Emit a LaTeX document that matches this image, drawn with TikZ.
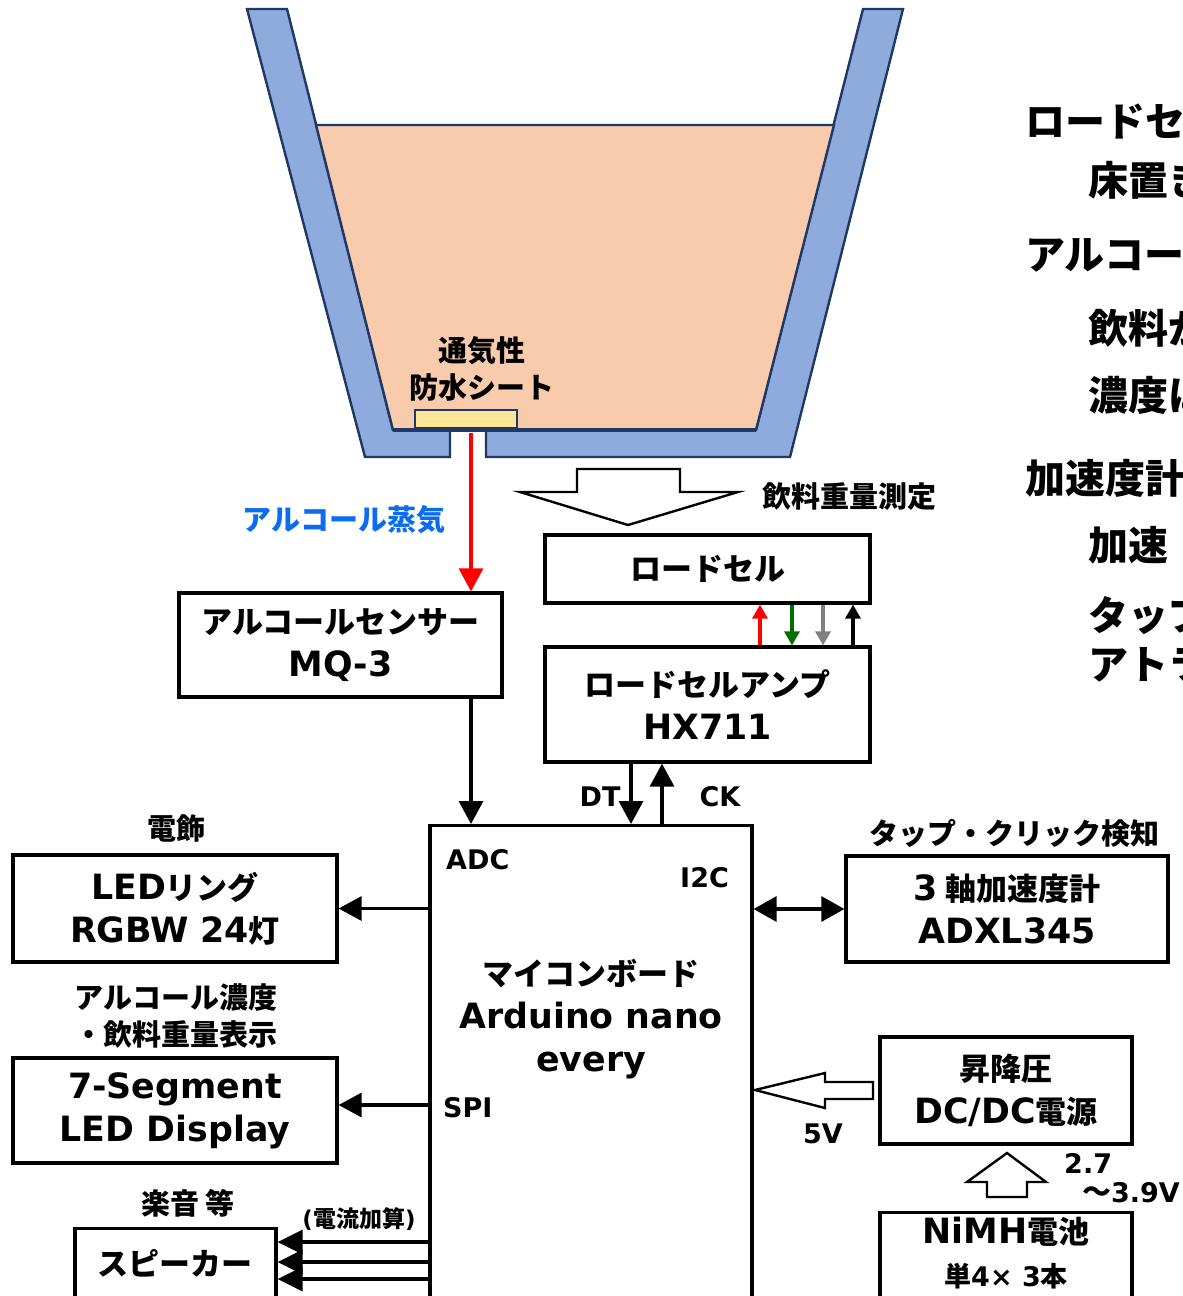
\documentclass[tikz,border=0pt]{standalone}
\usepackage{fontspec}
\setmainfont{Noto Sans CJK JP}
\newfontfamily\lt{DejaVu Sans}
\usetikzlibrary{arrows.meta}

\definecolor{cupblue}{HTML}{8FAADC}
\definecolor{cupedge}{HTML}{1F3864}
\definecolor{drink}{HTML}{F8CBAD}
\definecolor{sheetyellow}{HTML}{FFE699}
\definecolor{vapor}{RGB}{12,108,240}
\definecolor{wiregreen}{HTML}{006F00}
\definecolor{wiregray}{HTML}{808080}

% Latin text in boxes (La) and in small labels (Ls)
\newcommand\La[1]{{\lt\bfseries\fontsize{34.8}{43}\selectfont #1}}
\newcommand\Ls[1]{{\lt\bfseries\fontsize{27}{36}\selectfont #1}}

\tikzset{
  box/.style={draw, line width=3.2pt, inner sep=0pt, align=center,
    font=\bfseries\fontsize{31}{43}\selectfont},
  lbl/.style={inner sep=0pt, align=center,
    font=\bfseries\fontsize{29}{37}\selectfont},
  note/.style={inner sep=0pt, anchor=west,
    font=\bfseries\fontsize{40}{40}\selectfont},
  arr/.style={line width=3.2pt, -{Triangle[length=23pt,width=24pt]}},
  dblarr/.style={line width=3.2pt, {Triangle[length=23pt,width=25pt]}-{Triangle[length=23pt,width=25pt]}},
  wire/.style={line width=3.2pt, -{Triangle[length=14pt,width=15pt]}},
  spkarr/.style={line width=3.2pt, -{Triangle[length=25pt,width=24pt]}},
  wall/.style={fill=cupblue, draw=cupedge, line width=2.4pt, line join=miter},
  hollow/.style={fill=white, draw=black, line width=2.4pt, line join=miter},
}

\begin{document}
\begin{tikzpicture}[x=1pt,y=-1pt]
\useasboundingbox (0,0) rectangle (1183,1296);
\clip (0,0) rectangle (1183,1296);

% ---- cup with drink ----
\filldraw[wall] (247,9) -- (287,9) -- (393,430) -- (450,430) -- (450,457) -- (365,457) -- cycle;
\filldraw[wall] (486,430) -- (756,430) -- (863,9) -- (903,9) -- (790,457) -- (486,457) -- cycle;
\filldraw[fill=drink, draw=cupedge, line width=2.4pt, line join=miter]
  (316,125) -- (834,125) -- (756,430) -- (393,430) -- cycle;
\draw[cupedge, line width=3.6pt] (393,430) -- (756,430);
\filldraw[fill=sheetyellow, draw=cupedge, line width=1.8pt] (415,410) rectangle (517,428);
\node[lbl] (sheetlbl) at (482,369) {通気性\\防水シート};
\coordinate (hole) at (471,433);

% ---- weight arrow ----
\filldraw[hollow] (577,469) -- (680,469) -- (680,492) -- (738,492) -- (628,525)
  -- (520,492) -- (577,492) -- cycle;
\node[lbl, anchor=west] (weighlbl) at (762,497) {飲料重量測定};

% ---- boxes ----
\node[box, minimum width=325, minimum height=68] (lc) at (707.5,569) {ロードセル};
\node[box, minimum width=325, minimum height=115] (amp) at (707.5,704.5)
  {ロードセルアンプ\\\La{HX711}};
\node[box, minimum width=323, minimum height=104] (sens) at (340.5,645)
  {アルコールセンサー\\\La{MQ-3}};
\node[draw, line width=3.2pt, inner sep=0pt, minimum width=322, minimum height=600,
  anchor=north] (mcu) at (591,824) {};
\node[box, draw=none] (mcutxt) at (591,1019) {マイコンボード\\\La{Arduino nano}\\\La{every}};
\node[box, minimum width=324, minimum height=107] (led) at (175,908.5)
  {\La{LED}リング\\\La{RGBW 24}灯};
\node[box, minimum width=324, minimum height=105] (seg) at (175,1110.5)
  {\La{7-Segment}\\\La{LED Display}};
\node[draw, line width=3.2pt, inner sep=0pt, minimum width=201, minimum height=200,
  anchor=north] (spk) at (175.5,1227) {};
\node[box, draw=none] (spktxt) at (175,1263) {スピーカー};
\node[box, minimum width=322, minimum height=106] (acc) at (1007,909)
  {\La{3} 軸加速度計\\\La{ADXL345}};
\node[box, minimum width=252, minimum height=107] (dcdc) at (1006,1090.5)
  {昇降圧\\\La{DC/DC}電源};
\node[draw, line width=3.2pt, inner sep=0pt, minimum width=252, minimum height=200,
  anchor=north] (bat) at (1006,1211) {};
\node[box, draw=none] (battxt) at (1006,1232) {\La{NiMH}電池};
\node[lbl, font=\bfseries\fontsize{27}{30}\selectfont] (batsub) at (1006,1276)
  {単\Ls{4× 3}本};

% ---- labels ----
\node[lbl, text=vapor] (vaporlbl) at (344,520) {アルコール蒸気};
\node[lbl] (ledlbl) at (176,828) {電飾};
\node[lbl] (seglbl) at (176,1016) {アルコール濃度\\・飲料重量表示};
\node[lbl] (spklbl) at (188,1203) {楽音 等};
\node[lbl, font=\bfseries\fontsize{23}{28}\selectfont] (sumlbl) at (359,1219)
  {{\lt(}電流加算{\lt)}};
\node[lbl] (acclbl) at (1014,833) {タップ・クリック検知};
\node[lbl] (dtlbl) at (600,797) {\Ls{DT}};
\node[lbl] (cklbl) at (720,797) {\Ls{CK}};
\node[lbl, anchor=west] (adclbl) at (446,860) {\Ls{ADC}};
\node[lbl, anchor=west] (i2clbl) at (680,878) {\Ls{I2C}};
\node[lbl, anchor=west] (spilbl) at (443,1108) {\Ls{SPI}};
\node[lbl] (vlbl) at (823,1134) {\Ls{5V}};
\node[lbl, anchor=west] (vin1) at (1064,1163) {\Ls{2.7}};
\node[lbl, anchor=east] (vin2) at (1180,1193) {～\Ls{3.9V}};

% ---- notes at the right edge ----
\node[note] (n1) at (1025,122) {ロードセル};
\node[note] (n2) at (1088,180) {床置き};
\node[note] (n3) at (1025,255) {アルコール};
\node[note] (n4) at (1088,328) {飲料が};
\node[note] (n5) at (1088,395) {濃度は};
\node[note] (n6) at (1025,478) {加速度計};
\node[note] (n7) at (1088,545) {加速};
\node[note] (n8) at (1088,615) {タップ};
\node[note] (n9) at (1088,665) {アトラ};

% ---- connectors ----
\draw[arr, red] (hole) -- ([xshift=130.5pt]sens.north);
\draw[arr] ([xshift=130.5pt]sens.south) -- ([xshift=130.5pt]sens.south |- mcu.north);
\draw[wire, red] ([xshift=52.5pt]amp.north) -- ([xshift=52.5pt]amp.north |- lc.south);
\draw[wire, wiregreen] ([xshift=84.5pt]lc.south) -- ([xshift=84.5pt]lc.south |- amp.north);
\draw[wire, wiregray] ([xshift=115.5pt]lc.south) -- ([xshift=115.5pt]lc.south |- amp.north);
\draw[wire, black] ([xshift=145.5pt]amp.north) -- ([xshift=145.5pt]amp.north |- lc.south);
\draw[arr] ([xshift=-76.5pt]amp.south) -- ([xshift=-76.5pt]amp.south |- mcu.north);
\draw[arr] ([xshift=-45.5pt]amp.south |- mcu.north) -- ([xshift=-45.5pt]amp.south);
\draw[arr] (mcu.west |- led.east) -- (led.east);
\draw[arr] (mcu.west |- 0,1105) -- (seg.east |- 0,1105);
\draw[dblarr] (mcu.east |- acc.west) -- (acc.west);
\foreach \yy in {1242,1262,1279}
  \draw[spkarr] (mcu.west |- 0,\yy) -- (spk.east |- 0,\yy);

% ---- power arrows ----
\filldraw[hollow] (873,1082) -- (825,1082) -- (825,1073) -- (755,1090) -- (825,1108)
  -- (825,1099) -- (873,1099) -- cycle;
\filldraw[hollow] (987,1197) -- (987,1182) -- (967,1182) -- (1007,1153) -- (1046,1182)
  -- (1027,1182) -- (1027,1197) -- cycle;
\end{tikzpicture}
\end{document}
